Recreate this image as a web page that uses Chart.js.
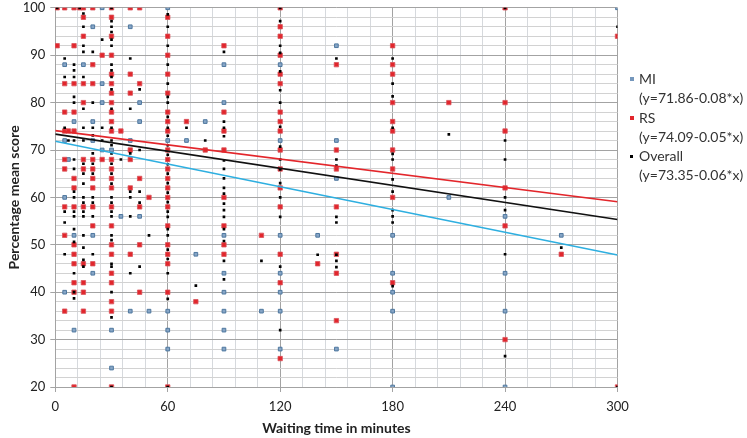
<!DOCTYPE html>
<html>
<head>
<meta charset="utf-8">
<script src="https://cdn.jsdelivr.net/npm/chart.js@4/dist/chart.umd.min.js"></script>
<style>
  html, body { margin: 0; padding: 0; background: #ffffff; }
  #wrap { position: relative; width: 747px; height: 438px; overflow: hidden; }
  #c { position: absolute; left: 0; top: -5px; }
  #legend { position: absolute; left: 628px; top: 69px; font-family: Lato, "Liberation Sans", sans-serif; font-size: 14px; color: #333333; line-height: 19.3px; }
  .item { position: relative; padding-left: 11px; white-space: nowrap; }
  .mk { position: absolute; left: 2px; top: 8px; }
</style>
</head>
<body>
<div id="wrap">
  <canvas id="c" width="747" height="443"></canvas>
  <div id="legend">
    <div class="item"><span class="mk" style="width:4px;height:4px;background:#7597BC;"></span>MI<br>(y=71.86-0.08*x)</div>
    <div class="item"><span class="mk" style="width:4px;height:4px;background:#E2262C;"></span>RS<br>(y=74.09-0.05*x)</div>
    <div class="item"><span class="mk" style="width:3px;height:3px;background:#000000;top:9px;left:2px;"></span>Overall<br>(y=73.35-0.06*x)</div>
  </div>
</div>
<script>
// ---- Data ----
const waitTimes = [1, 5, 7, 10, 13, 15, 20, 25, 30, 35, 40, 45, 50, 60, 70, 75, 80, 90, 110, 120, 140, 150, 180, 210, 240, 270, 300];

const miScores = [
  [], [88, 72, 60, 40], [68], [76, 52, 32], [], [88], [96, 76, 72, 52, 44], [100, 84, 80, 70],
  [70, 32, 24], [56], [96, 72, 36], [80, 76, 56], [36], [100, 72, 36, 32, 28], [72], [48], [76],
  [88, 80, 52, 44, 40, 36, 32, 28], [36], [88, 72, 52, 44, 40, 36, 28], [52], [92, 72, 64, 28],
  [52, 44, 40, 36, 20], [60], [56, 44, 36, 20], [52], [100]
];

const rsScores = [
  [100, 92], [100, 84, 78, 74, 68, 66, 58, 52, 36], [74],
  [100, 92, 84, 78, 74, 64, 62, 58, 50, 48, 46, 42, 40, 20], [100],
  [100, 98, 94, 84, 80, 68, 66, 58, 46, 42, 40, 36], [100, 88, 84, 68, 66, 64, 62, 58, 54, 46], [90, 68],
  [100, 98, 94, 90, 86, 84, 82, 80, 78, 76, 74, 68, 66, 64, 62, 58, 54, 50, 48, 44, 42, 38, 36, 20],
  [74], [100, 86, 82, 70, 68, 62, 48], [100, 84, 64, 58, 50, 40], [60],
  [98, 94, 90, 86, 82, 78, 76, 74, 70, 68, 66, 64, 62, 60, 58, 54, 50, 48, 46, 40, 20],
  [76], [38], [70], [92, 78, 74, 70, 60, 54, 50, 48], [52],
  [100, 96, 94, 90, 86, 84, 78, 76, 74, 70, 66, 62, 58, 48, 42, 26], [46], [88, 70, 66, 58, 48, 44, 34],
  [92, 88, 86, 80, 76, 74, 70, 66, 60, 42], [80], [100, 80, 74, 62, 54, 30], [48], [94, 20]
];

const overallScores = [
  [100], [89.3, 85.4, 74.7, 57, 54.7, 48], [72],
  [88, 86.8, 85.4, 81.2, 80, 72, 68, 66, 61.2, 60, 57, 56, 53.3, 50.6, 44, 40, 38.7], [100],
  [98.8, 96, 92, 90.7, 85.4, 78.7, 74.7, 72, 67.1, 65, 62.9, 60, 58.9, 57, 56, 52, 49.4, 46.8, 45.4],
  [90.7, 80, 74.7, 73.1, 69.3, 67.1, 65, 60, 58.9, 56, 48], [93.3, 74.7, 72],
  [100, 97.2, 96, 94.9, 93.3, 92, 88, 86.8, 85.4, 82.8, 78.7, 74.7, 72, 71, 69.3, 67.1, 65, 62.9, 60, 58.9, 57, 56, 52, 51, 46, 45.4, 40, 34.7, 20],
  [68], [89.3, 78.7, 69.3, 61.2, 60, 56, 44], [82.8, 70, 61.2, 58.9, 45.4], [52],
  [98.6, 96, 92, 88, 84, 81.2, 80, 77, 74.7, 73, 71, 69, 67, 65, 63, 61, 59, 57, 55.9, 53.3, 52, 49, 47, 44, 38.6, 20],
  [74.7], [41.4], [72], [90.7, 76, 74.7, 72.9, 67.8, 66, 64, 62, 60.8, 58.7, 57.3, 55.9, 53.3, 50.8, 46.6, 42.7], [46.6],
  [100, 97.2, 92, 90.5, 86.6, 82.6, 80, 74.9, 70.7, 68, 65.9, 63, 60, 55.9, 45.4, 32], [47.9],
  [89.3, 68, 66.7, 55.9, 54.7, 47.9, 46.6, 45.3],
  [89.3, 84, 81.3, 74.7, 69.2, 68, 63.8, 61.2, 57.3, 56, 54.7, 41.3], [73.3],
  [100, 72, 68, 60, 57.3, 48, 26.5], [49.4], [96, 20]
];

// Trend lines (endpoints of the fitted lines shown in the legend)
const trendX = [0, 300];
const miTrend = [71.86, 47.86];
const rsTrend = [74.09, 59.09];
const overallTrend = [73.35, 55.35];

const xTickLabels = [0, 60, 120, 180, 240, 300];
const yTickLabels = [20, 30, 40, 50, 60, 70, 80, 90, 100];

// ---- Build points ----
function toPoints(scores) {
  const pts = [];
  waitTimes.forEach((t, i) => scores[i].forEach(v => pts.push({ x: t, y: v })));
  return pts;
}
function toLine(vals) { return trendX.map((x, i) => ({ x: x, y: vals[i] })); }

const MAJOR = '#A3A3A3';
const MINOR_H = '#D2D2D2';
const MINOR_V = '#D6D9DD';

const FONT = 'Lato, "Liberation Sans", sans-serif';

new Chart(document.getElementById('c'), {
  type: 'scatter',
  data: {
    datasets: [
      { label: 'MI trend', data: toLine(miTrend), showLine: true, borderColor: '#2EAFE0', borderWidth: 1.6, pointRadius: 0, order: 0 },
      { label: 'RS trend', data: toLine(rsTrend), showLine: true, borderColor: '#E3262B', borderWidth: 1.6, pointRadius: 0, order: 0 },
      { label: 'Overall trend', data: toLine(overallTrend), showLine: true, borderColor: '#111111', borderWidth: 1.6, pointRadius: 0, order: 0 },
      { label: 'Overall', data: toPoints(overallScores), pointStyle: 'rect', pointRadius: 1.9, borderWidth: 0, backgroundColor: '#000000', order: 1 },
      { label: 'RS', data: toPoints(rsScores), pointStyle: 'rect', pointRadius: 3.1, borderWidth: 0.8, backgroundColor: '#E2262C', borderColor: '#D9535A', order: 2 },
      { label: 'MI', data: toPoints(miScores), pointStyle: 'rect', pointRadius: 2.6, borderWidth: 1, backgroundColor: '#86A5C6', borderColor: '#4F789F', order: 3 }
    ]
  },
  options: {
    responsive: false,
    animation: false,
    devicePixelRatio: 1,
    layout: { padding: { left: 6, right: 129.5, top: 7.5, bottom: 1 } },
    plugins: { legend: { display: false }, tooltip: { enabled: false } },
    scales: {
      x: {
        type: 'linear', min: 0, max: 300,
        afterFit: (s) => { s.height = 50; },
        border: { color: MAJOR, width: 1 },
        grid: {
          color: (ctx) => (ctx.tick && xTickLabels.includes(ctx.tick.value)) ? MAJOR : MINOR_V,
          tickColor: (ctx) => (ctx.tick && xTickLabels.includes(ctx.tick.value)) ? MAJOR : 'rgba(0,0,0,0)',
          tickLength: 5, lineWidth: 1
        },
        ticks: {
          stepSize: 12, autoSkip: false, maxRotation: 0, minRotation: 0, padding: 7,
          color: '#222222', font: { family: FONT, size: 13 },
          callback: (v) => xTickLabels.includes(v) ? String(v) : ''
        },
        title: { display: true, text: 'Waiting time in minutes', color: '#222222', font: { family: FONT, size: 14, weight: 'bold' }, padding: { top: 0, bottom: 0 } }
      },
      y: {
        type: 'linear', min: 20, max: 100,
        afterFit: (s) => { s.width = 49.3; },
        border: { color: MAJOR, width: 1 },
        grid: {
          color: (ctx) => (ctx.tick && yTickLabels.includes(ctx.tick.value)) ? MAJOR : MINOR_H,
          tickColor: (ctx) => (ctx.tick && yTickLabels.includes(ctx.tick.value)) ? MAJOR : 'rgba(0,0,0,0)',
          tickLength: 5, lineWidth: 1
        },
        ticks: {
          stepSize: 2, autoSkip: false, padding: 5,
          color: '#222222', font: { family: FONT, size: 13 },
          callback: (v) => yTickLabels.includes(v) ? String(v) : ''
        },
        title: { display: true, text: 'Percentage mean score', color: '#222222', font: { family: FONT, size: 14, weight: 'bold' }, padding: { top: 0, bottom: 0 } }
      }
    }
  }
});
</script>
</body>
</html>
